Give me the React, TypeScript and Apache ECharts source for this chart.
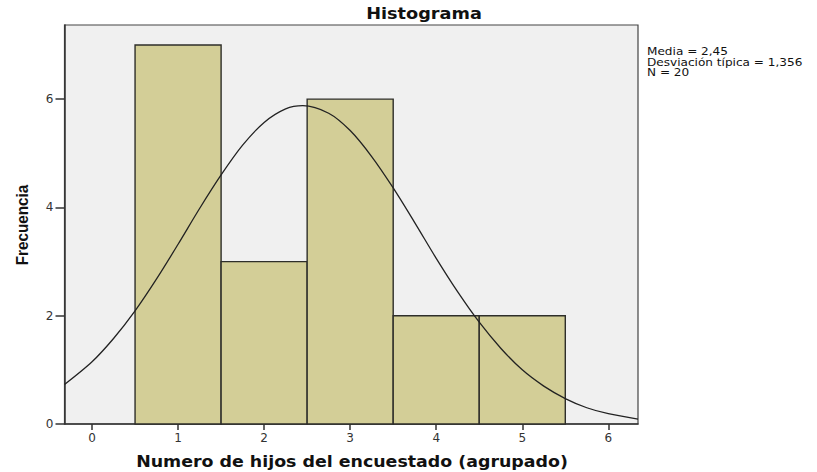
import React, { useEffect, useRef } from "react";
import * as echarts from "echarts";

const binCenters = [1, 2, 3, 4, 5];
const frequencies = [7, 3, 6, 2, 2];
const xTicks = [0, 1, 2, 3, 4, 5, 6];
const yTicks = [0, 2, 4, 6];
// normal curve (Media 2,45, Desv. 1,356, N 20)
const curveX = [-0.32, 0, 0.25, 0.5, 0.75, 1, 1.25, 1.5, 1.75, 2, 2.25, 2.45, 2.75, 3, 3.25, 3.5, 3.75, 4, 4.25, 4.5, 4.75, 5, 5.25, 5.5, 5.75, 6, 6.345];
const curveY = [0.73, 1.15, 1.58, 2.09, 2.68, 3.32, 3.98, 4.6, 5.15, 5.57, 5.82, 5.88, 5.74, 5.42, 4.94, 4.36, 3.72, 3.06, 2.44, 1.88, 1.4, 1.0, 0.7, 0.47, 0.3, 0.19, 0.09];
const legendLines = ["Media = 2,45", "Desviación típica = 1,356", "N = 20"];

export default function App() {
  const ref = useRef<HTMLDivElement>(null);
  useEffect(() => {
    const chart = echarts.init(ref.current!, null, { renderer: "svg" });
    const axisColor = "#333";
    const tickFont = "DejaVu Sans, Verdana, sans-serif";
    chart.setOption({
      animation: false,
      grid: {
        left: 64.5,
        top: 25,
        right: 179,
        bottom: 48,
        show: true,
        backgroundColor: "#f0f0f0",
        borderColor: "#444",
        borderWidth: 1.2,
      },
      xAxis: {
        type: "value",
        min: -0.32,
        max: 6.345,
        splitLine: { show: false },
        axisLine: { show: true, onZero: false, lineStyle: { color: axisColor, width: 1.5 } },
        axisTick: { show: true, customValues: xTicks, length: 6, lineStyle: { color: axisColor, width: 1.5 } },
        axisLabel: {
          customValues: xTicks,
          color: "#333",
          fontSize: 12,
          fontFamily: tickFont,
          margin: 8,
        },
      },
      yAxis: {
        type: "value",
        min: 0,
        max: 7.37,
        splitLine: { show: false },
        axisLine: { show: true, onZero: false, lineStyle: { color: axisColor, width: 1.5 } },
        axisTick: { show: true, customValues: yTicks, length: 9, lineStyle: { color: axisColor, width: 1.5 } },
        axisLabel: {
          customValues: yTicks,
          color: "#333",
          fontSize: 12,
          fontFamily: tickFont,
          margin: 11,
        },
      },
      series: [
        {
          type: "custom",
          data: binCenters.map((c, i) => [c, frequencies[i]]),
          renderItem: (params: any, api: any) => {
            const c = api.value(0);
            const v = api.value(1);
            const p1 = api.coord([c - 0.5, v]);
            const p2 = api.coord([c + 0.5, 0]);
            return {
              type: "rect",
              shape: { x: p1[0], y: p1[1], width: p2[0] - p1[0], height: p2[1] - p1[1] },
              style: { fill: "#d3ce97", stroke: "#2e2e2a", lineWidth: 1.4 },
            };
          },
          z: 2,
        },
        {
          type: "line",
          data: curveX.map((x, i) => [x, curveY[i]]),
          smooth: 0.3,
          symbol: "none",
          lineStyle: { color: "#222", width: 1.3 },
          z: 3,
        },
      ],
      graphic: [
        {
          type: "text",
          x: 424,
          y: 14,
          scaleX: 1.18,
          style: {
            text: "Histograma",
            align: "center",
            verticalAlign: "middle",
            font: "bold 15px DejaVu Sans, Verdana, sans-serif",
            fill: "#111",
          },
        },
        {
          type: "text",
          x: 647,
          y: 46,
          scaleX: 1.1,
          style: {
            text: legendLines.join("\n"),
            verticalAlign: "top",
            lineHeight: 10.5,
            font: "11px DejaVu Sans, Verdana, sans-serif",
            fill: "#111",
          },
        },
        {
          type: "text",
          x: 352,
          y: 462,
          scaleX: 1.16,
          style: {
            text: "Numero de hijos del encuestado (agrupado)",
            align: "center",
            verticalAlign: "middle",
            font: "bold 15px DejaVu Sans, Verdana, sans-serif",
            fill: "#111",
          },
        },
        {
          type: "text",
          x: 21.5,
          y: 225,
          rotation: Math.PI / 2,
          scaleX: 0.9,
          style: {
            text: "Frecuencia",
            align: "center",
            verticalAlign: "middle",
            font: "bold 17px Liberation Sans, Arial, sans-serif",
            fill: "#111",
          },
        },
      ],
    });
    return () => chart.dispose();
  }, []);
  return <div ref={ref} style={{ position: "absolute", left: 0, top: 0, width: 817, height: 472 }} />;
}
